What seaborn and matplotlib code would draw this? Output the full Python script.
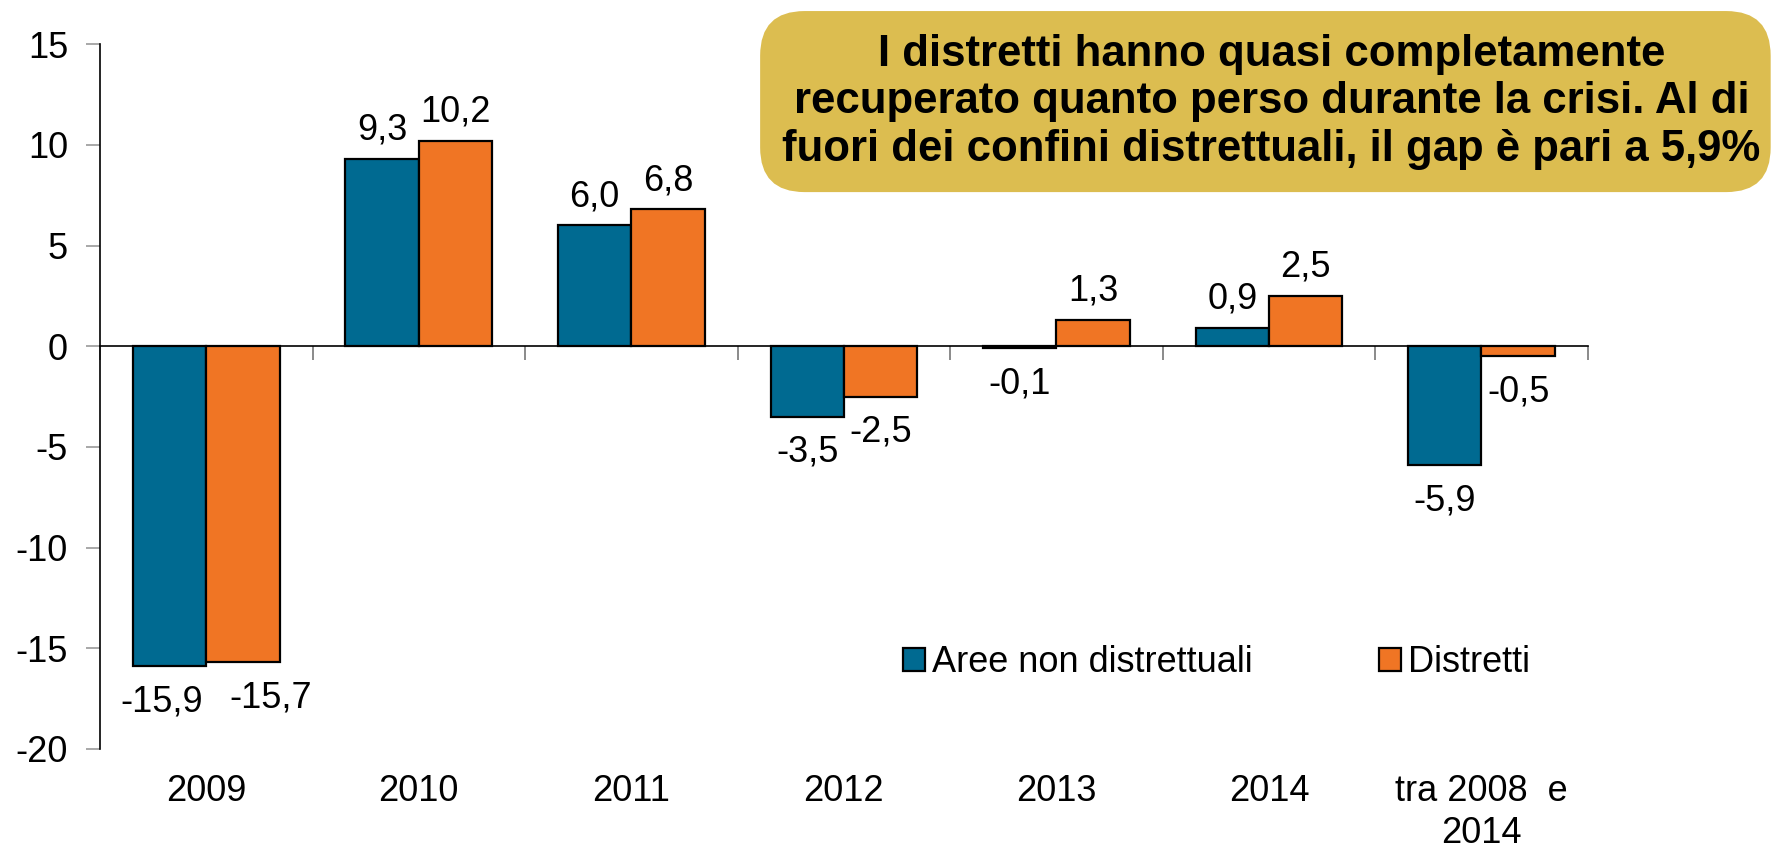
import matplotlib
matplotlib.use("Agg")
import matplotlib.pyplot as plt
import seaborn as sns
import pandas as pd
from matplotlib.patches import FancyBboxPatch

categories = ["2009", "2010", "2011", "2012", "2013", "2014", "tra 2008  e\n2014"]
non_distr = [-15.9, 9.3, 6.0, -3.5, -0.1, 0.9, -5.9]
distretti = [-15.7, 10.2, 6.8, -2.5, 1.3, 2.5, -0.5]
series_names = ["Aree non distrettuali", "Distretti"]
yticks = [-20, -15, -10, -5, 0, 5, 10, 15]
note = ("I distretti hanno quasi completamente\n"
        "recuperato quanto perso durante la crisi. Al di\n"
        "fuori dei confini distrettuali, il gap è pari a 5,9%")

BLUE = "#006A91"
ORANGE = "#F07524"
FS = 26

df = pd.DataFrame({
    "anno": categories * 2,
    "valore": non_distr + distretti,
    "serie": [series_names[0]] * len(categories) + [series_names[1]] * len(categories),
})

sns.set_style("white")
plt.rcParams["font.family"] = ["Liberation Sans", "DejaVu Sans"]
plt.rcParams["text.color"] = "black"
plt.rcParams["xtick.color"] = "black"
plt.rcParams["ytick.color"] = "black"

fig = plt.figure(figsize=(17.76, 8.5), dpi=100)
ax = fig.add_axes([0.0563, 0.119, 0.8377, 0.829])

sns.barplot(data=df, x="anno", y="valore", hue="serie", order=categories,
            hue_order=series_names, palette=[BLUE, ORANGE], width=0.69,
            edgecolor="black", linewidth=1.6, saturation=1, ax=ax)

# data labels with comma decimals: above positive bars, below negative ones
for cont in ax.containers:
    vals = [b.get_height() for b in cont]
    fmt = [f"{v:.1f}".replace(".", ",") for v in vals]
    pos = [t if v >= 0 else "" for t, v in zip(fmt, vals)]
    neg = [t if v < 0 else "" for t, v in zip(fmt, vals)]
    ax.bar_label(cont, labels=pos, padding=8, fontsize=FS)
    anns = ax.bar_label(cont, labels=neg, padding=13, fontsize=FS)
    # spread the two 2009 labels apart as in the original
    if cont is ax.containers[0]:
        anns[0].xyann = (anns[0].xyann[0] - 6, anns[0].xyann[1])
    else:
        anns[0].xyann = (anns[0].xyann[0] + 20, anns[0].xyann[1])

ax.set_xlim(-0.5, len(categories) - 0.5)
ax.set_ylim(-20, 15)
ax.set_yticks(yticks)
ax.set_yticklabels([str(t) for t in yticks], fontsize=FS)
ax.tick_params(axis="y", left=True, direction="out", length=10, width=1.2,
               color="#999999", pad=13)
ax.set_xlabel("")
ax.set_ylabel("")

for s in ["top", "right"]:
    ax.spines[s].set_visible(False)
ax.spines["left"].set_color("black")
ax.spines["left"].set_linewidth(1.2)
ax.spines["bottom"].set_position(("data", 0))
ax.spines["bottom"].set_color("black")
ax.spines["bottom"].set_linewidth(1.2)

# tick marks at category boundaries on the zero line
ax.set_xticks(range(len(categories)))
ax.tick_params(axis="x", which="major", length=0, labelbottom=False)
ax.set_xticks([i + 0.5 for i in range(-1, len(categories))], minor=True)
ax.tick_params(axis="x", which="minor", bottom=True, direction="out", length=10,
               width=1.2, color="#777777")

# category labels at the bottom of the plot
sec = ax.secondary_xaxis("bottom")
sec.set_xticks(range(len(categories)))
sec.set_xticklabels(categories, fontsize=FS, linespacing=1.25)
sec.tick_params(length=0, pad=18)
sec.spines["bottom"].set_visible(False)

leg = ax.legend(loc="center left", bbox_to_anchor=(0.53, 0.122), ncol=2, frameon=False,
                fontsize=FS, handlelength=0.6, handleheight=0.6, handletextpad=0.2,
                columnspacing=3.5, borderaxespad=0)
for h in leg.legend_handles:
    h.set_edgecolor("black")
    h.set_linewidth(1.6)

box = FancyBboxPatch((0.428, 0.774), 0.569, 0.213, transform=fig.transFigure,
                     boxstyle="round,pad=0,rounding_size=0.025", mutation_aspect=2.1,
                     facecolor="#DCBD50", edgecolor="none", zorder=5)
fig.patches.append(box)
fig.text(0.716, 0.880, note, ha="center", va="center", fontsize=31.5, fontweight="bold",
         linespacing=1.2, zorder=6)

fig.savefig("out.png", dpi=100)
